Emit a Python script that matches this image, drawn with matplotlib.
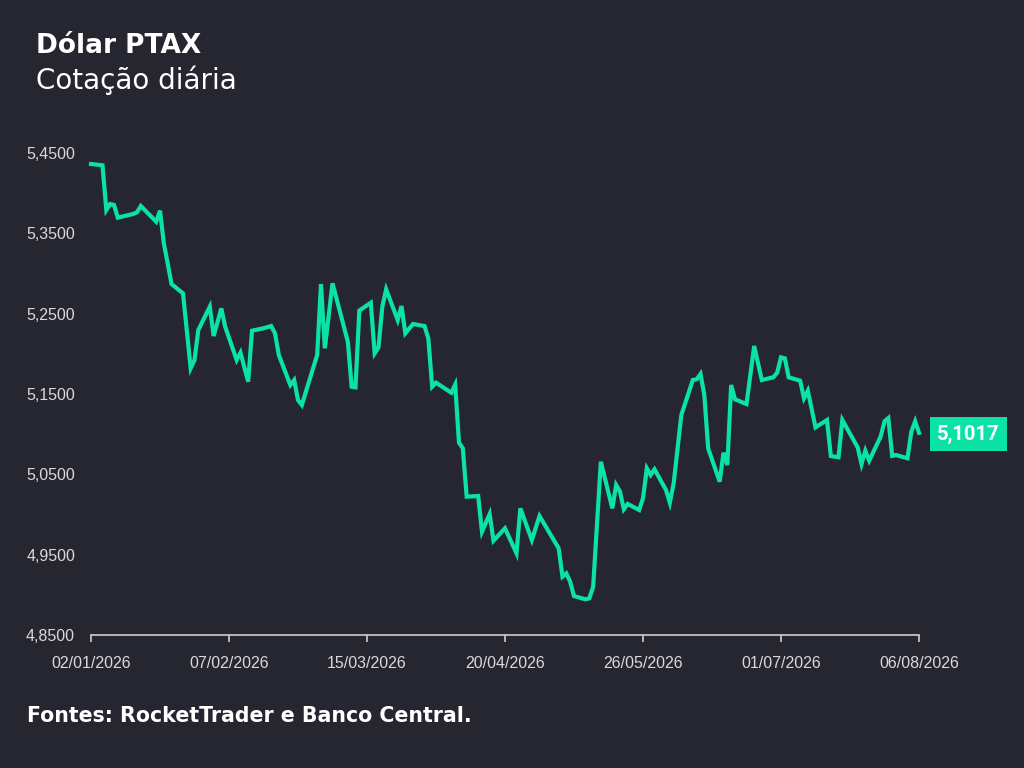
import matplotlib
matplotlib.use("Agg")
import matplotlib.pyplot as plt
import matplotlib.dates as mdates
import pandas as pd

# vertices (date, PTAX)
dates = [
    "2026-01-02", "2026-01-05", "2026-01-06", "2026-01-07", "2026-01-08", "2026-01-09",
    "2026-01-13", "2026-01-14", "2026-01-15", "2026-01-19", "2026-01-20", "2026-01-21",
    "2026-01-22", "2026-01-23", "2026-01-26", "2026-01-28", "2026-01-29", "2026-01-30",
    "2026-02-02", "2026-02-03", "2026-02-05", "2026-02-06", "2026-02-09", "2026-02-10",
    "2026-02-12", "2026-02-13", "2026-02-16", "2026-02-18", "2026-02-19", "2026-02-20",
    "2026-02-23", "2026-02-24", "2026-02-25", "2026-02-26", "2026-03-02", "2026-03-03",
    "2026-03-04", "2026-03-06", "2026-03-10", "2026-03-11", "2026-03-12", "2026-03-13",
    "2026-03-16", "2026-03-17", "2026-03-18", "2026-03-19", "2026-03-20", "2026-03-23",
    "2026-03-24", "2026-03-25", "2026-03-27", "2026-03-30", "2026-03-31", "2026-04-01",
    "2026-04-02", "2026-04-06", "2026-04-07", "2026-04-08", "2026-04-09", "2026-04-10",
    "2026-04-13", "2026-04-14", "2026-04-16", "2026-04-17", "2026-04-20", "2026-04-23",
    "2026-04-24", "2026-04-27", "2026-04-29", "2026-05-04", "2026-05-05", "2026-05-06",
    "2026-05-07", "2026-05-08", "2026-05-11", "2026-05-12", "2026-05-13", "2026-05-15",
    "2026-05-18", "2026-05-19", "2026-05-20", "2026-05-21", "2026-05-22", "2026-05-25",
    "2026-05-26", "2026-05-27", "2026-05-28", "2026-05-29", "2026-06-01", "2026-06-02",
    "2026-06-03", "2026-06-05", "2026-06-08", "2026-06-09", "2026-06-10", "2026-06-11",
    "2026-06-12", "2026-06-15", "2026-06-16", "2026-06-17", "2026-06-18", "2026-06-19",
    "2026-06-22", "2026-06-24", "2026-06-26", "2026-06-29", "2026-06-30", "2026-07-01",
    "2026-07-02", "2026-07-03", "2026-07-06", "2026-07-07", "2026-07-08", "2026-07-10",
    "2026-07-13", "2026-07-14", "2026-07-16", "2026-07-17", "2026-07-21", "2026-07-22",
    "2026-07-23", "2026-07-24", "2026-07-27", "2026-07-28", "2026-07-29", "2026-07-30",
    "2026-07-31", "2026-08-03", "2026-08-04", "2026-08-05", "2026-08-06",
]
ptax = [
    5.4363, 5.4347, 5.3790, 5.3865, 5.3853, 5.3695,
    5.3741, 5.3762, 5.3840, 5.3645, 5.3782, 5.3376,
    5.3127, 5.2869, 5.2753, 5.1820, 5.1923, 5.2297,
    5.2587, 5.2222, 5.2566, 5.2338, 5.1923, 5.2014,
    5.1653, 5.2288, 5.2318, 5.2346, 5.2256, 5.1985,
    5.1612, 5.1674, 5.1425, 5.1363, 5.1985, 5.2869,
    5.2069, 5.2878, 5.2151, 5.1591, 5.1583, 5.2539,
    5.2636, 5.2006, 5.2081, 5.2587, 5.2803, 5.2421,
    5.2595, 5.2256, 5.2371, 5.2346, 5.2193, 5.1591,
    5.1641, 5.1516, 5.1616, 5.0894, 5.0824, 5.0222,
    5.0230, 4.9786, 5.0006, 4.9674, 4.9828, 4.9517,
    5.0077, 4.9682, 4.9981, 4.9579, 4.9226, 4.9267,
    4.9163, 4.8985, 4.8944, 4.8957, 4.9101, 5.0657,
    5.0077, 5.0367, 5.0284, 5.0065, 5.0131, 5.0056,
    5.0202, 5.0575, 5.0492, 5.0563, 5.0305, 5.0147,
    5.0388, 5.1238, 5.1674, 5.1683, 5.1749, 5.1487,
    5.0824, 5.0408, 5.0769, 5.0616, 5.1612, 5.1434,
    5.1375, 5.2097, 5.1674, 5.1708, 5.1765, 5.1957,
    5.1944, 5.1708, 5.1665, 5.1446, 5.1541, 5.1085,
    5.1176, 5.0728, 5.0712, 5.1176, 5.0836, 5.0629,
    5.0794, 5.0670, 5.0970, 5.1160, 5.1200, 5.0730,
    5.0740, 5.0700, 5.1030, 5.1160, 5.1017,
]
ytick_vals = [4.85, 4.95, 5.05, 5.15, 5.25, 5.35, 5.45]
xtick_dates = ["2026-01-02", "2026-02-07", "2026-03-15", "2026-04-20",
               "2026-05-26", "2026-07-01", "2026-08-06"]

bg = "#252630"
green = "#0be3a6"
tick_col = "#d9d9d9"

x = pd.to_datetime(dates)

fig = plt.figure(figsize=(10.24, 7.68), dpi=100, facecolor=bg)
ax = fig.add_axes([91 / 1024, 1 - 635 / 768, (919 - 91) / 1024, (635 - 153) / 768])
ax.set_facecolor(bg)

ax.plot(x, ptax, color=green, lw=3, solid_joinstyle="miter", clip_on=False)

ax.set_xlim(pd.Timestamp("2026-01-02"), pd.Timestamp("2026-08-06"))
ax.set_ylim(4.85, 5.45)

for s in ["top", "right", "left"]:
    ax.spines[s].set_visible(False)
ax.spines["bottom"].set_color("#cfcfcf")
ax.spines["bottom"].set_linewidth(1.2)

ax.set_xticks(pd.to_datetime(xtick_dates))
ax.xaxis.set_major_formatter(mdates.DateFormatter("%d/%m/%Y"))
ax.set_yticks(ytick_vals)
ax.set_yticklabels([("%.4f" % v).replace(".", ",") for v in ytick_vals])

tick_font = ["Liberation Sans Narrow", "Liberation Sans", "DejaVu Sans"]
ax.tick_params(axis="x", colors="#cfcfcf", length=5, width=1.2, pad=10,
               labelcolor=tick_col, labelsize=11.5)
ax.tick_params(axis="y", length=0, pad=11.5, labelcolor=tick_col, labelsize=11.5)
for lab in ax.get_xticklabels() + ax.get_yticklabels():
    lab.set_family(tick_font)

# last value tag
last = ptax[-1]
ax.annotate(("%.4f" % last).replace(".", ","), xy=(x[-1], last),
            xytext=(13, -1), textcoords="offset points", ha="left", va="center",
            fontsize=14.5, fontweight="bold", color="white", family=["Roboto", "DejaVu Sans"],
            bbox=dict(boxstyle="square,pad=0.36", fc=green, ec="none"),
            annotation_clip=False)

fig.text(36 / 1024, 1 - 46 / 768, "Dólar PTAX", fontsize=19, fontweight="bold",
         color="white", family="DejaVu Sans", va="center", ha="left")
fig.text(36 / 1024, 1 - 80 / 768, "Cotação diária", fontsize=20,
         color="white", family="DejaVu Sans", va="center", ha="left")
fig.text(27 / 1024, 1 - 716 / 768, "Fontes: RocketTrader e Banco Central.", fontsize=14.8,
         fontweight="bold", color="white", family="DejaVu Sans", va="center", ha="left")

fig.savefig("out.png", dpi=100, facecolor=bg)
